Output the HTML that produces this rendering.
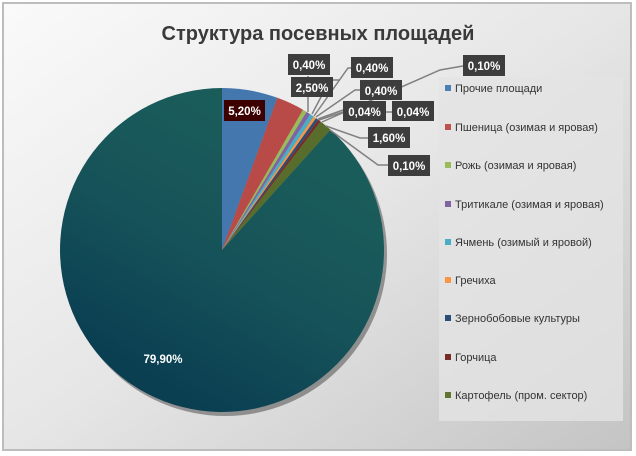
<!DOCTYPE html>
<html><head><meta charset="utf-8"><style>
body{margin:0;width:636px;height:456px;overflow:hidden;background:#fff}
svg{display:block;font-family:"Liberation Sans","DejaVu Sans",sans-serif}
</style></head><body>
<svg width="636" height="456" viewBox="0 0 636 456" xmlns="http://www.w3.org/2000/svg">
<defs>
<linearGradient id="bg" x1="0" y1="0" x2="1" y2="1">
<stop offset="0" stop-color="#fafafa"/><stop offset="0.5" stop-color="#e6e6e6"/><stop offset="1" stop-color="#c4c4c4"/>
</linearGradient>
<linearGradient id="tl" x1="0.7" y1="0.2" x2="0.3" y2="0.9">
<stop offset="0" stop-color="#1a5c5a"/><stop offset="0.5" stop-color="#165259"/><stop offset="1" stop-color="#0a3f52"/>
</linearGradient>
</defs>
<rect x="0" y="0" width="636" height="456" fill="#fff"/>
<rect x="3" y="3" width="628" height="447" fill="url(#bg)" stroke="#bdbdbd" stroke-width="2"/>
<text x="318" y="40" text-anchor="middle" font-size="20" font-weight="bold" fill="#3a3a3a">Структура посевных площадей</text>
<g transform="translate(3,4)" opacity="0.35"><circle cx="222" cy="250" r="162" fill="#000"/></g>
<path d="M222,250 L330.4,129.6 A162,162 0 1,1 222,88 Z" fill="url(#tl)"/>
<path d="M222,250 L222,88 A162,162 0 0,1 277.4,97.8 Z" fill="#4377ad"/>
<path d="M222,250 L277.4,97.8 A162,162 0 0,1 303,109.7 Z" fill="#b84b48"/>
<path d="M222,250 L303,109.7 A162,162 0 0,1 306.6,111.9 Z" fill="#9bbb59"/>
<path d="M222,250 L306.6,111.9 A162,162 0 0,1 310.2,114.1 Z" fill="#8064a2"/>
<path d="M222,250 L310.2,114.1 A162,162 0 0,1 313.8,116.5 Z" fill="#4bacc6"/>
<path d="M222,250 L313.8,116.5 A162,162 0 0,1 316.1,118.1 Z" fill="#f79646"/>
<path d="M222,250 L316.1,118.1 A162,162 0 0,1 318.4,119.8 Z" fill="#2c4d75"/>
<path d="M222,250 L318.4,119.8 A162,162 0 0,1 320.6,121.5 Z" fill="#772c2a"/>
<path d="M222,250 L320.6,121.5 A162,162 0 0,1 330.4,129.6 Z" fill="#586d2c"/>
<g stroke="#808080" stroke-width="1.5" fill="none">
<polyline points="308,112 308,76"/>
<polyline points="312,114 330,80 340,80"/>
<polyline points="314,116 348,68 351,68"/>
<polyline points="316,117 355,90 360,90"/>
<polyline points="318,119 343,110"/>
<polyline points="319,120 343,112 392,112"/>
<polyline points="322,122 440,70 463,66"/>
<polyline points="326,126 360,138 368,138"/>
<polyline points="330,130 378,165 388,165"/>
</g>
<g font-size="11.5" font-weight="bold" fill="#fff" text-anchor="middle">
<rect x="288" y="54" width="42" height="21" fill="#3d3d3d"/><text x="309" y="69">0,40%</text>
<rect x="291" y="77" width="42" height="20" fill="#3d3d3d"/><text x="312" y="92">2,50%</text>
<rect x="351" y="57" width="42" height="21" fill="#3d3d3d"/><text x="372" y="72">0,40%</text>
<rect x="360" y="80" width="42" height="20" fill="#3d3d3d"/><text x="381" y="95">0,40%</text>
<rect x="343" y="101" width="43" height="20" fill="#3d3d3d"/><text x="364.5" y="116">0,04%</text>
<rect x="392" y="101" width="42" height="20" fill="#3d3d3d"/><text x="413" y="116">0,04%</text>
<rect x="368" y="127" width="42" height="21" fill="#3d3d3d"/><text x="389" y="142">1,60%</text>
<rect x="388" y="155" width="42" height="21" fill="#3d3d3d"/><text x="409" y="170">0,10%</text>
<rect x="463" y="55" width="42" height="21" fill="#3d3d3d"/><text x="484" y="70">0,10%</text>
<rect x="224" y="100" width="41" height="21" fill="#3d0000"/><text x="244.5" y="115">5,20%</text>
<text x="163" y="363">79,90%</text>
</g>
<rect x="439" y="77" width="184" height="344" fill="#e4e4e4" opacity="0.8"/>
<g font-size="11" fill="#333">
<rect x="445" y="85" width="6" height="6" fill="#4a7fb8"/><text x="455" y="92">Прочие площади</text>
<rect x="445" y="124" width="6" height="6" fill="#c0504d"/><text x="455" y="131">Пшеница (озимая и яровая)</text>
<rect x="445" y="162" width="6" height="6" fill="#9bbb59"/><text x="455" y="169">Рожь (озимая и яровая)</text>
<rect x="445" y="201" width="6" height="6" fill="#8064a2"/><text x="455" y="208">Тритикале (озимая и яровая)</text>
<rect x="445" y="239" width="6" height="6" fill="#4bacc6"/><text x="455" y="246">Ячмень (озимый и яровой)</text>
<rect x="445" y="277" width="6" height="6" fill="#f79646"/><text x="455" y="284">Гречиха</text>
<rect x="445" y="315" width="6" height="6" fill="#2c4d75"/><text x="455" y="322">Зернобобовые культуры</text>
<rect x="445" y="354" width="6" height="6" fill="#772c2a"/><text x="455" y="361">Горчица</text>
<rect x="445" y="392" width="6" height="6" fill="#5f7530"/><text x="455" y="399">Картофель (пром. сектор)</text>
</g>
</svg>
</body></html>
